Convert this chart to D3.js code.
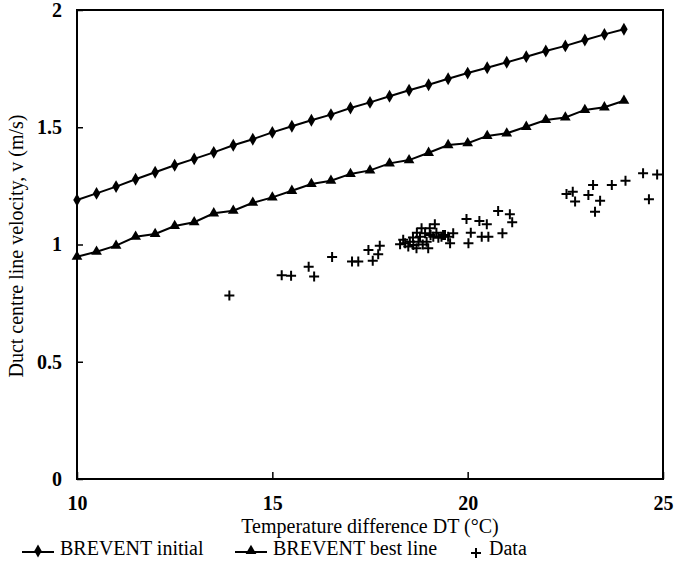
<!DOCTYPE html>
<html>
<head>
<meta charset="utf-8">
<script src="https://cdn.jsdelivr.net/npm/d3@7"></script>
<style>
  body { margin: 0; background: #fff; }
  svg { display: block; }
  svg text { font-family: "Liberation Serif", "Times New Roman", Times, "DejaVu Serif", serif !important; }
</style>
</head>
<body>
<div id="chart"></div>
<script>
// model runs (every 0.5 degC)
var modelDT = [10, 10.5, 11, 11.5, 12, 12.5, 13, 13.5, 14, 14.5, 15, 15.5, 16, 16.5, 17,
  17.5, 18, 18.5, 19, 19.5, 20, 20.5, 21, 21.5, 22, 22.5, 23, 23.5, 24];
var initialV = [1.190, 1.218, 1.247, 1.278, 1.308, 1.338, 1.365, 1.393, 1.423, 1.449, 1.478,
  1.504, 1.530, 1.554, 1.582, 1.606, 1.632, 1.658, 1.681, 1.707, 1.731, 1.754, 1.777,
  1.801, 1.825, 1.847, 1.872, 1.896, 1.918];
var bestV = [0.948, 0.969, 0.995, 1.033, 1.045, 1.079, 1.095, 1.133, 1.144, 1.178, 1.201,
  1.229, 1.258, 1.272, 1.301, 1.316, 1.346, 1.360, 1.391, 1.424, 1.432, 1.463, 1.474,
  1.502, 1.531, 1.542, 1.574, 1.585, 1.613];

// measured points
var dataDT = [13.90, 15.24, 15.48, 15.93, 16.07, 16.53, 17.04, 17.20, 17.57, 17.46, 17.71, 17.75,
  18.27, 18.40, 18.52, 18.48, 18.61, 18.69, 18.74, 18.78, 18.82, 18.91, 18.95, 18.99, 19.03,
  19.16, 19.12, 19.25, 19.33, 19.42, 19.50, 19.55, 19.63, 18.35, 18.60, 18.85, 19.05, 19.20,
  18.70, 19.37, 19.97, 20.08, 20.02, 20.30, 20.36, 20.49, 20.53, 20.78, 20.89, 21.08, 21.14,
  22.53, 22.69, 22.75, 23.21, 23.09, 23.39, 23.26, 23.69, 24.04, 24.49, 24.64, 24.85];
var dataV = [0.782, 0.869, 0.867, 0.905, 0.864, 0.947, 0.927, 0.927, 0.931, 0.977, 0.958, 0.995,
  1.001, 1.005, 1.012, 0.991, 0.998, 0.984, 1.012, 1.033, 1.069, 1.048, 1.012, 0.984, 1.069,
  1.086, 1.033, 1.029, 1.033, 1.041, 1.033, 1.005, 1.048, 1.020, 1.030, 1.000, 1.040, 1.050,
  1.050, 1.040, 1.109, 1.050, 1.005, 1.100, 1.033, 1.086, 1.033, 1.143, 1.048, 1.129, 1.095,
  1.215, 1.225, 1.183, 1.254, 1.211, 1.187, 1.140, 1.254, 1.272, 1.304, 1.193, 1.298];

var xTicks = [10, 15, 20, 25];
var yTicks = [0, 0.5, 1, 1.5, 2];
var legendNames = ["BREVENT initial", "BREVENT best line", "Data"];

var serif = "Liberation Serif, Times New Roman, serif";

var svgWidth = 676, svgHeight = 578;
var margin = { top: 10, right: 13, bottom: 99, left: 77 };
var width = svgWidth - margin.left - margin.right;
var height = svgHeight - margin.top - margin.bottom;

var svg = d3.select("#chart").append("svg")
  .attr("width", svgWidth)
  .attr("height", svgHeight)
  .attr("font-family", serif);

var g = svg.append("g")
  .attr("transform", "translate(" + margin.left + "," + margin.top + ")");

var x = d3.scaleLinear().domain([10, 25]).range([0, width]);
var y = d3.scaleLinear().domain([0, 2]).range([height, 0]);

// axes (ticks pointing inward)
var xAxis = g.append("g")
  .attr("transform", "translate(0," + height + ")")
  .call(d3.axisBottom(x).tickValues(xTicks).tickFormat(d3.format("d")).tickSize(-7).tickPadding(17));
var yAxis = g.append("g")
  .call(d3.axisLeft(y).tickValues(yTicks).tickFormat(function(d) { return String(d); }).tickSize(-6).tickPadding(15));

[xAxis, yAxis].forEach(function(a) {
  a.attr("font-family", serif).attr("font-size", null);
  a.select(".domain").remove();
  a.selectAll("line").attr("stroke", "#000").attr("stroke-width", 1.5);
  a.selectAll("text")
    .attr("fill", "#000")
    .attr("font-family", serif)
    .style("font-size", "20px")
    .style("font-weight", "bold");
});

// frame
g.append("rect")
  .attr("width", width)
  .attr("height", height)
  .attr("fill", "none")
  .attr("stroke", "#000")
  .attr("stroke-width", 2);

var line = d3.line()
  .x(function(d) { return x(d[0]); })
  .y(function(d) { return y(d[1]); });

var initialPts = modelDT.map(function(d, i) { return [d, initialV[i]]; });
var bestPts = modelDT.map(function(d, i) { return [d, bestV[i]]; });
var dataPts = dataDT.map(function(d, i) { return [d, dataV[i]]; });

var diamond = d3.symbol().type(d3.symbolDiamond).size(48);
var triangle = d3.symbol().type(d3.symbolTriangle).size(50);

function drawSeries(pts, sym) {
  g.append("path")
    .datum(pts)
    .attr("d", line)
    .attr("fill", "none")
    .attr("stroke", "#000")
    .attr("stroke-width", 2);
  g.selectAll(null)
    .data(pts)
    .enter()
    .append("path")
    .attr("d", sym)
    .attr("transform", function(d) { return "translate(" + x(d[0]) + "," + y(d[1]) + ")"; })
    .attr("fill", "#000");
}
drawSeries(initialPts, diamond);
drawSeries(bestPts, triangle);

// data crosses
var crossGroup = g.selectAll(".cross")
  .data(dataPts)
  .enter()
  .append("g")
  .attr("class", "cross")
  .attr("transform", function(d) { return "translate(" + x(d[0]) + "," + y(d[1]) + ")"; });
crossGroup.append("path")
  .attr("d", "M-5,0H5M0,-5V5")
  .attr("stroke", "#000")
  .attr("stroke-width", 2);

// axis titles
svg.append("text")
  .attr("x", margin.left + width / 2)
  .attr("y", 533)
  .attr("text-anchor", "middle")
  .attr("font-family", serif)
  .style("font-size", "20px")
  .text("Temperature difference DT (\u00b0C)");

svg.append("text")
  .attr("transform", "translate(23,246) rotate(-90)")
  .attr("text-anchor", "middle")
  .attr("font-family", serif)
  .style("font-size", "20px")
  .text("Duct centre line velocity, v (m/s)");

// legend
var legend = svg.append("g").attr("transform", "translate(0,555)");
var legendX = [22, 235, 470];

legend.append("line").attr("x1", legendX[0]).attr("x2", legendX[0] + 32).attr("y1", -3).attr("y2", -3)
  .attr("stroke", "#000").attr("stroke-width", 2);
legend.append("path").attr("d", diamond).attr("transform", "translate(" + (legendX[0] + 16) + ",-4)");
legend.append("line").attr("x1", legendX[1]).attr("x2", legendX[1] + 32).attr("y1", -3).attr("y2", -3)
  .attr("stroke", "#000").attr("stroke-width", 2);
legend.append("path").attr("d", triangle).attr("transform", "translate(" + (legendX[1] + 16) + ",-4)");
legend.append("path").attr("d", "M-5,0H5M0,-5V5").attr("transform", "translate(" + (legendX[2] + 6) + ",-2)")
  .attr("stroke", "#000").attr("stroke-width", 2);

legend.selectAll(".ltext")
  .data(legendNames)
  .enter()
  .append("text")
  .attr("class", "ltext")
  .attr("x", function(d, i) { return i === 2 ? legendX[i] + 19 : legendX[i] + 38; })
  .attr("y", 0)
  .attr("font-family", serif)
  .style("font-size", "20px")
  .text(function(d) { return d; });
</script>
</body>
</html>
